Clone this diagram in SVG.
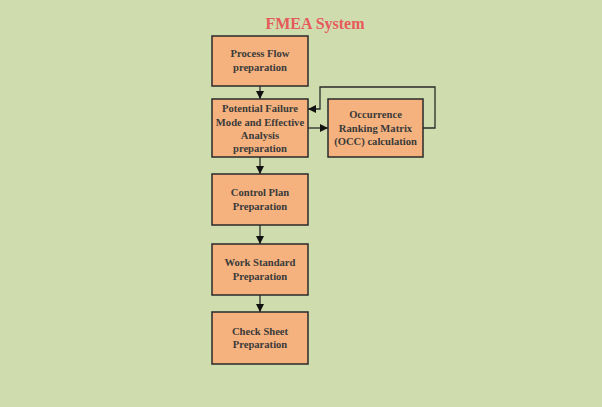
<svg xmlns="http://www.w3.org/2000/svg" width="602" height="407" viewBox="0 0 602 407">
<style>
.box{fill:#f5b27e;stroke:#2a2a2a;stroke-width:1.5}
.t{font-family:"Liberation Serif","Times New Roman",serif;font-weight:bold;font-size:10.6px;fill:#3a3a3a;text-anchor:middle}
.c{fill:none;stroke:#2a2a2a;stroke-width:1.3}
</style>
<defs>
<marker id="ah" viewBox="0 0 10 10" refX="10" refY="5" markerWidth="8" markerHeight="8" markerUnits="userSpaceOnUse" orient="auto">
<path d="M0,0 L10,5 L0,10 z" fill="#111"/>
</marker>
</defs>
<rect width="602" height="407" fill="#cfdcad"/>
<text x="315" y="29" font-family="Liberation Serif,'Times New Roman',serif" font-weight="bold" font-size="16" fill="#e65a5b" text-anchor="middle">FMEA System</text>
<g id="connectors">
<line class="c" x1="260" y1="86" x2="260" y2="99" marker-end="url(#ah)"/>
<line class="c" x1="308" y1="128" x2="328" y2="128" marker-end="url(#ah)"/>
<polyline class="c" points="423,128 435,128 435,87 320,87 320,109 308,109" marker-end="url(#ah)"/>
<line class="c" x1="260" y1="157" x2="260" y2="174" marker-end="url(#ah)"/>
<line class="c" x1="260" y1="225" x2="260" y2="244" marker-end="url(#ah)"/>
<line class="c" x1="260" y1="295" x2="260" y2="312" marker-end="url(#ah)"/>
</g>
<g id="process-flow">
<rect class="box" x="212" y="36" width="96" height="50"/>
<text class="t" x="260" y="57">Process Flow</text>
<text class="t" x="260" y="71">preparation</text>
</g>
<g id="pfmea">
<rect class="box" x="212" y="99" width="96" height="58"/>
<text class="t" x="260" y="112">Potential Failure</text>
<text class="t" x="260" y="125.5">Mode and Effective</text>
<text class="t" x="260" y="139">Analysis</text>
<text class="t" x="260" y="152">preparation</text>
</g>
<g id="occ">
<rect class="box" x="328" y="99" width="95" height="58"/>
<text class="t" x="375.5" y="118">Occurrence</text>
<text class="t" x="375.5" y="131.5">Ranking Matrix</text>
<text class="t" x="375.5" y="145">(OCC) calculation</text>
</g>
<g id="control-plan">
<rect class="box" x="212" y="174" width="96" height="51"/>
<text class="t" x="260" y="196">Control Plan</text>
<text class="t" x="260" y="210">Preparation</text>
</g>
<g id="work-standard">
<rect class="box" x="212" y="244" width="96" height="51"/>
<text class="t" x="260" y="266">Work Standard</text>
<text class="t" x="260" y="280">Preparation</text>
</g>
<g id="check-sheet">
<rect class="box" x="212" y="312" width="96" height="52"/>
<text class="t" x="260" y="335">Check Sheet</text>
<text class="t" x="260" y="348">Preparation</text>
</g>
</svg>
